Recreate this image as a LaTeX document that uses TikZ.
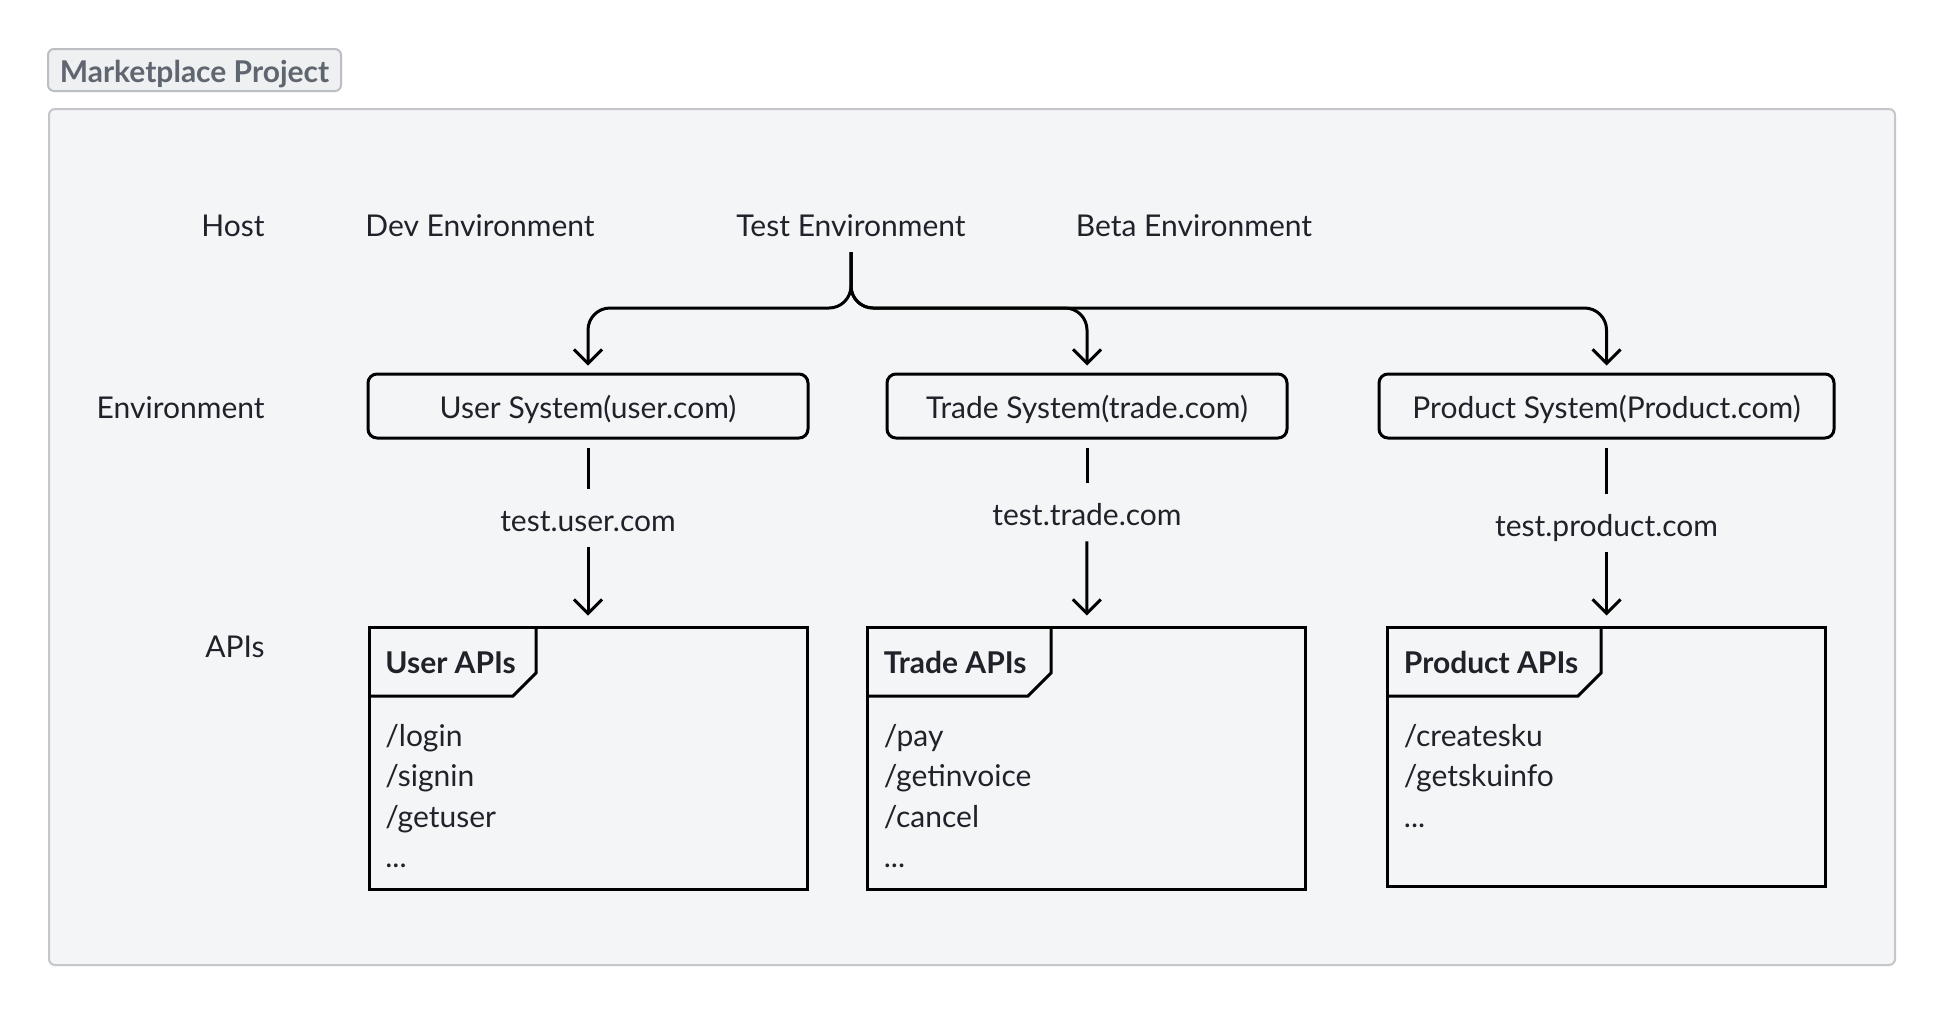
\documentclass[tikz,border=0pt]{standalone}
\usepackage{fontspec}
\setmainfont{Lato}
\usetikzlibrary{arrows.meta,calc}
\definecolor{txt}{HTML}{1F2329}
\definecolor{ttl}{HTML}{5F6670}
\definecolor{ttlfill}{HTML}{EFF0F2}
\definecolor{ttlline}{HTML}{BBBFC4}
\definecolor{panel}{HTML}{F4F5F7}
\definecolor{panelline}{HTML}{C4C6CA}
\tikzset{
  lbl/.style={font=\fontsize{15}{18}\selectfont, text=txt, inner sep=0pt},
  rowlbl/.style={lbl, anchor=base east},
  envlbl/.style={lbl, anchor=base},
  sysbox/.style={draw=black, line width=1.5pt, rounded corners=4.5pt, minimum height=32pt,
    inner sep=0pt, text height=12.5pt, text depth=0pt, font=\fontsize{15}{18}\selectfont, text=txt},
  hostlbl/.style={lbl, anchor=base, text height=21pt, text depth=8pt},
  apiframe/.style={draw=black, line width=1.5pt, minimum width=219pt, inner sep=0pt},
  apititle/.style={font=\bfseries\fontsize{15}{18}\selectfont, text=txt, inner sep=0pt, anchor=base west},
  apiitem/.style={lbl, anchor=base west},
  plainline/.style={draw=black, line width=1.5pt},
  conn/.style={draw=black, line width=1.5pt, -{Straight Barb[length=7pt,width=14pt]}},
  tab/.style={draw=black, line width=1.5pt, line join=miter}
}
\begin{document}
\begin{tikzpicture}[x=0.5pt,y=-0.5pt]
\useasboundingbox[fill=white] (0,0) rectangle (1946,1018);
% container
\draw[draw=panelline, fill=panel, line width=1pt, rounded corners=3pt] (49,109) rectangle (1895,965);
% title
\node[draw=ttlline, fill=ttlfill, line width=1pt, rounded corners=3pt, minimum width=146.5pt,
  minimum height=21pt, inner sep=0pt, text height=12pt, text depth=0pt,
  font=\bfseries\fontsize{15}{18}\selectfont, text=ttl]
  (title) at (194.5,70) {Marketplace Project};
% row labels
\node[rowlbl] (host) at (265,236) {Host};
\node[rowlbl] (envrow) at (265,418) {Environment};
\node[rowlbl] (apirow) at (265,657) {APIs};
% environment labels
\node[envlbl] (dev) at (480,236) {Dev Environment};
\node[envlbl] (test) at (851,236) {Test Environment};
\node[envlbl] (beta) at (1194,236) {Beta Environment};
\coordinate (tstart) at ($(test.base)+(0,16)$);
% systems
\node[sysbox, minimum width=220pt] (usys) at (588,406) {User System(user.com)};
\node[sysbox, minimum width=200pt] (tsys) at (1087,406) {Trade System(trade.com)};
\node[sysbox, minimum width=227.5pt] (psys) at (1606.5,406) {Product System(Product.com)};
% tree
\draw[conn, rounded corners=11pt, shorten >=3.5pt] (tstart) |- (588,308) -- (usys.north);
\draw[conn, rounded corners=11pt, shorten >=3.5pt] (tstart) |- (1087,308) -- (tsys.north);
\draw[conn, rounded corners=11pt, shorten >=3.5pt] (tstart) |- (1606.5,308) -- (psys.north);
% host labels
\node[hostlbl] (uhost) at (588,531) {test.user.com};
\node[hostlbl] (thost) at (1087,525) {test.trade.com};
\node[hostlbl] (phost) at (1606.5,536) {test.product.com};
% api frames
\node[apiframe, minimum height=131pt] (uapi) at (588,758) {};
\node[apiframe, minimum height=131pt] (tapi) at (1086.5,758) {};
\node[apiframe, minimum height=129.5pt] (papi) at (1606.5,756.5) {};
% connectors
\draw[plainline, shorten <=4pt] (usys) -- (uhost);
\draw[conn, shorten >=5pt] (uhost) -- (uapi);
\draw[plainline, shorten <=4pt] (tsys) -- (thost);
\draw[conn, shorten >=5pt] (thost) -- (tapi);
\draw[plainline, shorten <=4pt] (psys) -- (phost);
\draw[conn, shorten >=5pt] (phost) -- (papi);
% tabs
\draw[tab] (369,696) -- (513,696) -- (536,673) -- (536,627);
\draw[tab] (867.5,696) -- (1028,696) -- (1051,673) -- (1051,627);
\draw[tab] (1387.5,696) -- (1578,696) -- (1601,673) -- (1601,627);
% titles
\node[apititle] (ut) at (385,673) {User APIs};
\node[apititle] (tt) at (883.5,673) {Trade APIs};
\node[apititle] (pt) at (1403.5,673) {Product APIs};
% items
\node[apiitem] (u1) at (385,746) {/login};
\node[apiitem] (u2) at (385,786.5) {/signin};
\node[apiitem] (u3) at (385,827) {/getuser};
\node[apiitem] (u4) at (385,867.5) {...};
\node[apiitem] (t1) at (883.5,746) {/pay};
\node[apiitem] (t2) at (883.5,786.5) {/getinvoice};
\node[apiitem] (t3) at (883.5,827) {/cancel};
\node[apiitem] (t4) at (883.5,867.5) {...};
\node[apiitem] (p1) at (1403.5,746) {/createsku};
\node[apiitem] (p2) at (1403.5,786.5) {/getskuinfo};
\node[apiitem] (p3) at (1403.5,827) {...};
\end{tikzpicture}
\end{document}
